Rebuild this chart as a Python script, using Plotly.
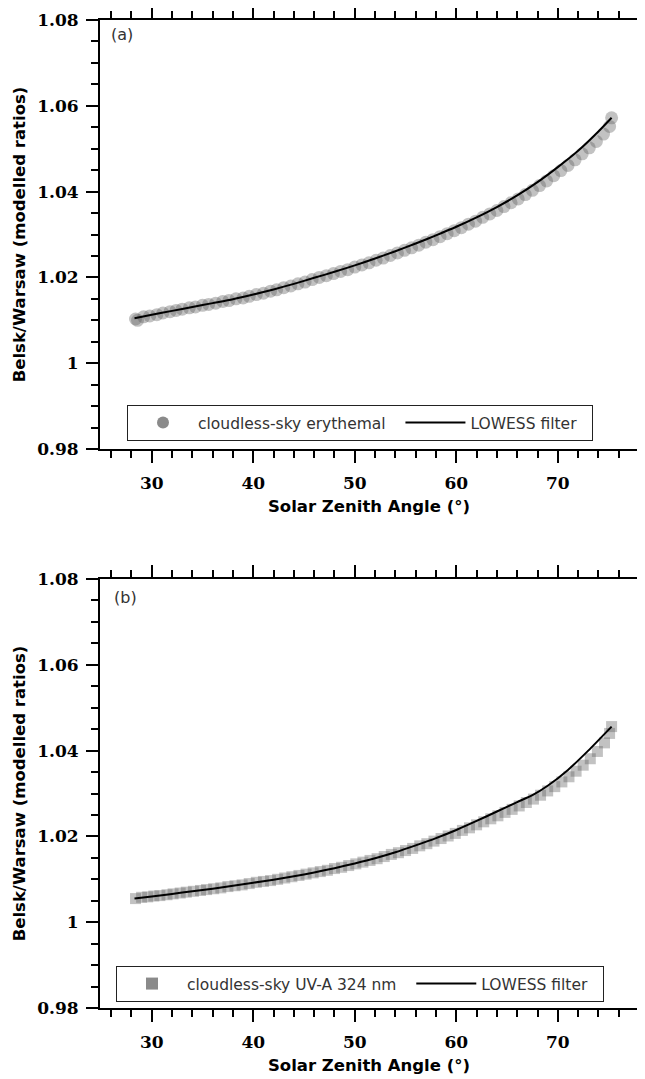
import plotly.graph_objects as go

# ---------------- data ----------------
# Panel (a): cloudless-sky erythemal ratios
sza_a = [28.4, 28.6, 29.2, 29.8, 30.5, 31.1, 31.8, 32.4, 33.0, 33.7, 34.3, 35.0, 35.6, 36.3,
         37.0, 37.6, 38.3, 39.0, 39.6, 40.3, 41.0, 41.7, 42.3, 43.0, 43.7, 44.4, 45.1, 45.8,
         46.5, 47.2, 47.9, 48.6, 49.3, 50.0, 50.7, 51.4, 52.1, 52.8, 53.5, 54.2, 54.9, 55.6,
         56.3, 57.0, 57.7, 58.4, 59.1, 59.8, 60.5, 61.2, 61.9, 62.6, 63.3, 64.0, 64.7, 65.4,
         66.1, 66.8, 67.5, 68.2, 68.9, 69.6, 70.3, 71.0, 71.7, 72.4, 73.1, 73.8, 74.5, 75.1, 75.3]
ratio_a = [1.0103, 1.0100, 1.0108, 1.0110, 1.0113, 1.0117, 1.0120, 1.0123, 1.0126, 1.0129,
           1.0131, 1.0135, 1.0137, 1.0140, 1.0144, 1.0146, 1.0150, 1.0152, 1.0156, 1.0160,
           1.0163, 1.0168, 1.0171, 1.0176, 1.0180, 1.0185, 1.0189, 1.0195, 1.0200, 1.0204,
           1.0209, 1.0214, 1.0218, 1.0224, 1.0229, 1.0234, 1.0240, 1.0245, 1.0251, 1.0257,
           1.0263, 1.0269, 1.0275, 1.0282, 1.0288, 1.0295, 1.0302, 1.0309, 1.0316, 1.0324,
           1.0331, 1.0340, 1.0348, 1.0356, 1.0365, 1.0374, 1.0383, 1.0393, 1.0403, 1.0414,
           1.0425, 1.0437, 1.0449, 1.0461, 1.0474, 1.0488, 1.0502, 1.0517, 1.0534, 1.0552, 1.0572]
lowess_sza_a = [28.3, 30, 32, 34, 36, 38, 40, 42, 44, 46, 48, 50, 52, 54, 56, 58, 60, 62, 64,
                66, 68, 70, 72, 74, 75.3]
lowess_a = [1.0105, 1.0113, 1.0122, 1.0131, 1.0140, 1.0149, 1.0160, 1.0172, 1.0185, 1.0199,
            1.0213, 1.0228, 1.0244, 1.0261, 1.0279, 1.0298, 1.0318, 1.0340, 1.0364, 1.0391,
            1.0422, 1.0457, 1.0495, 1.0540, 1.0572]

# Panel (b): cloudless-sky UV-A 324 nm ratios
sza_b = [28.4, 29.0, 29.6, 30.2, 30.8, 31.5, 32.1, 32.8, 33.4, 34.1, 34.8, 35.4, 36.1, 36.8,
         37.5, 38.2, 38.9, 39.6, 40.3, 41.0, 41.7, 42.4, 43.1, 43.8, 44.5, 45.2, 45.9, 46.6,
         47.3, 48.0, 48.7, 49.4, 50.1, 50.8, 51.5, 52.2, 52.9, 53.6, 54.3, 55.0, 55.7, 56.4,
         57.1, 57.8, 58.5, 59.2, 59.9, 60.6, 61.3, 62.0, 62.7, 63.4, 64.1, 64.8, 65.5, 66.2,
         66.9, 67.6, 68.3, 69.0, 69.7, 70.4, 71.1, 71.8, 72.5, 73.2, 73.9, 74.6, 75.1, 75.3]
ratio_b = [1.0055, 1.0058, 1.0059, 1.0061, 1.0062, 1.0064, 1.0066, 1.0068, 1.0070, 1.0072,
           1.0074, 1.0076, 1.0078, 1.0080, 1.0083, 1.0085, 1.0087, 1.0090, 1.0093, 1.0095,
           1.0097, 1.0100, 1.0103, 1.0106, 1.0109, 1.0112, 1.0115, 1.0118, 1.0121, 1.0125,
           1.0128, 1.0132, 1.0136, 1.0140, 1.0144, 1.0148, 1.0153, 1.0158, 1.0162, 1.0167,
           1.0172, 1.0178, 1.0183, 1.0189, 1.0195, 1.0201, 1.0207, 1.0214, 1.0220, 1.0227,
           1.0234, 1.0241, 1.0248, 1.0256, 1.0263, 1.0271, 1.0279, 1.0287, 1.0296, 1.0306,
           1.0316, 1.0327, 1.0339, 1.0352, 1.0366, 1.0381, 1.0398, 1.0418, 1.0440, 1.0456]
lowess_sza_b = [28.3, 30, 32, 34, 36, 38, 40, 42, 44, 46, 48, 50, 52, 54, 56, 58, 60, 62, 64,
                66, 67.5, 69, 71, 73, 75.3]
lowess_b = [1.0055, 1.0060, 1.0066, 1.0072, 1.0078, 1.0085, 1.0092, 1.0099, 1.0107, 1.0116,
            1.0126, 1.0137, 1.0149, 1.0163, 1.0179, 1.0196, 1.0215, 1.0236, 1.0258, 1.0280,
            1.0296, 1.0318, 1.0355, 1.0400, 1.0456]

x_ticks = [30, 40, 50, 60, 70]
y_ticks = [0.98, 1.00, 1.02, 1.04, 1.06, 1.08]
y_ticktext = ["0.98", "1", "1.02", "1.04", "1.06", "1.08"]

panel_labels = ["(a)", "(b)"]
scatter_names = ["cloudless-sky erythemal", "cloudless-sky UV-A 324 nm"]
line_name = "LOWESS filter"
x_title = "Solar Zenith Angle (°)"
y_title = "Belsk/Warsaw (modelled ratios)"

# ---------------- figure ----------------
# the page body has an 8px margin, so the figure is shrunk and all page
# coordinates are converted to figure coordinates by subtracting OFF
OFF = 8
W, H = 645 - OFF, 1079 - OFF


def fx(px):
    return (px - OFF) / W


def fy(py):
    return 1 - (py - OFF) / H


fig = go.Figure()

band_color = "rgba(95,95,95,0.38)"
legend_gray = "#8a8a8a"

panels = [
    dict(sx=sza_a, sy=ratio_a, lx=lowess_sza_a, ly=lowess_a, sym="circle", size=13,
         xa="x", ya="y", leg="legend", name=scatter_names[0] + "\u00a0\u00a0"),
    dict(sx=sza_b, sy=ratio_b, lx=lowess_sza_b, ly=lowess_b, sym="square", size=11,
         xa="x2", ya="y2", leg="legend2", name=scatter_names[1] + "\u00a0\u00a0"),
]

for p in panels:
    fig.add_trace(go.Scatter(x=p["sx"], y=p["sy"], mode="markers", xaxis=p["xa"], yaxis=p["ya"],
                             marker=dict(symbol=p["sym"], size=p["size"], color=band_color,
                                         line=dict(width=0)),
                             showlegend=False, hoverinfo="skip"))
    # legend-only entry (solid gray symbol)
    fig.add_trace(go.Scatter(x=[None], y=[None], mode="markers", xaxis=p["xa"], yaxis=p["ya"],
                             marker=dict(symbol=p["sym"], size=12, color=legend_gray),
                             name=p["name"], legend=p["leg"], showlegend=True))
    fig.add_trace(go.Scatter(x=p["lx"], y=p["ly"], mode="lines", xaxis=p["xa"], yaxis=p["ya"],
                             line=dict(color="black", width=2, shape="spline", smoothing=0.6),
                             name=line_name + "\u00a0\u00a0", legend=p["leg"], showlegend=True))

xdom = [fx(100), fx(638)]
ydom_a = [fy(449), fy(20)]
ydom_b = [fy(1008), fy(579)]

tickfont = dict(family="DejaVu Serif", size=17, color="black", weight="bold")
titlefont = dict(family="DejaVu Sans", size=16.5, color="black", weight="bold")


def xaxis(anchor):
    return dict(domain=xdom, anchor=anchor, range=[24.9, 77.9], tickvals=x_ticks,
                ticks="outside", ticklen=12, tickwidth=2, tickcolor="black",
                showline=True, linewidth=2, linecolor="black", mirror="ticks",
                showgrid=False, zeroline=False, tickfont=tickfont, ticklabelstandoff=6,
                minor=dict(dtick=2, tick0=0, ticks="outside", ticklen=7, tickwidth=2,
                           tickcolor="black", showgrid=False),
                title=dict(text=x_title, font=titlefont, standoff=8))


def yaxis(dom, anchor):
    return dict(domain=dom, anchor=anchor, range=[0.98, 1.08], tickvals=y_ticks,
                ticktext=y_ticktext, ticks="outside", ticklen=12, tickwidth=2,
                tickcolor="black", showline=True, linewidth=2, linecolor="black",
                mirror="ticks", showgrid=False, zeroline=False, tickfont=tickfont,
                ticklabelstandoff=4,
                minor=dict(dtick=0.005, tick0=0, ticks="outside", ticklen=7, tickwidth=2,
                           tickcolor="black", showgrid=False),
                title=dict(text=y_title, font=titlefont, standoff=7))


legend_common = dict(orientation="h", xanchor="left", yanchor="top",
                     bgcolor="white", bordercolor="#222222", borderwidth=1,
                     font=dict(family="DejaVu Sans", size=15.5, color="#333333"),
                     itemwidth=60, entrywidth=0, tracegroupgap=0)

fig.update_layout(
    width=W, height=H,
    margin=dict(l=0, r=0, t=0, b=0, autoexpand=False),
    paper_bgcolor="white", plot_bgcolor="white",
    xaxis=xaxis("y"), yaxis=yaxis(ydom_a, "x"),
    xaxis2=xaxis("y2"), yaxis2=yaxis(ydom_b, "x2"),
    legend=dict(x=fx(127), y=fy(405), **legend_common),
    legend2=dict(x=fx(116), y=fy(966), **legend_common),
    showlegend=True,
)

label_pos = [(122, 34), (125, 597)]
for txt, (px, py) in zip(panel_labels, label_pos):
    fig.add_annotation(text=txt, x=fx(px), y=fy(py), xref="paper", yref="paper",
                       xanchor="center", yanchor="middle", showarrow=False,
                       font=dict(family="DejaVu Sans", size=16, color="#333333"))

fig.write_html("out.html")
